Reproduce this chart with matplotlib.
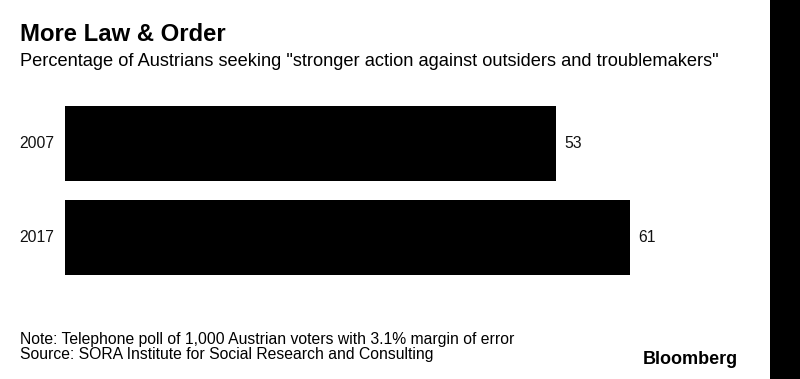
import matplotlib
matplotlib.use("Agg")
import matplotlib.pyplot as plt
from matplotlib.patches import Rectangle

years = ["2007", "2017"]
values = [53, 61]

title = "More Law & Order"
subtitle = 'Percentage of Austrians seeking "stronger action against outsiders and troublemakers"'
note = "Note: Telephone poll of 1,000 Austrian voters with 3.1% margin of error"
source = "Source: SORA Institute for Social Research and Consulting"
brand = "Bloomberg"

W, H = 800, 379
plt.rcParams['font.family'] = ['Liberation Sans', 'DejaVu Sans']

fig = plt.figure(figsize=(W / 100, H / 100), dpi=100)
fig.patch.set_facecolor("white")

# black strip on right edge
fig.add_artist(Rectangle((770 / W, 0), 1 - 770 / W, 1, transform=fig.transFigure,
                         facecolor="black", edgecolor="none", zorder=0))

ax_left, ax_right = 65 / W, 770 / W
ax_top, ax_bot = 96.5, 284.5
ax = fig.add_axes([ax_left, 1 - ax_bot / H, ax_right - ax_left, (ax_bot - ax_top) / H])
ax.barh(range(len(years)), values, height=0.8, color="black")
ax.set_xlim(0, 705 / ((630 - 65) / 61))
ax.set_ylim(1.5, -0.5)
ax.axis("off")
for i, (y, v) in enumerate(zip(years, values)):
    ax.text(v + 0.9, i, f"{v}", va="center", ha="left", fontsize=11.3, color="#111111")
    ax.text(-1.2, i, y, va="center", ha="right", fontsize=11.3, color="#111111")

fig.text(20 / W, 1 - 41 / H, title, fontsize=17.2, fontweight="bold", va="baseline", ha="left")
fig.text(20 / W, 1 - 66.5 / H, subtitle, fontsize=13.15, va="baseline", ha="left")
fig.text(20 / W, 1 - 344 / H, note, fontsize=11.3, va="baseline", ha="left")
fig.text(20 / W, 1 - 359 / H, source, fontsize=11.3, va="baseline", ha="left")
fig.text(738 / W, 1 - 364 / H, brand, fontsize=13, fontweight="bold", va="baseline", ha="right")

fig.savefig("out.png", dpi=100)
